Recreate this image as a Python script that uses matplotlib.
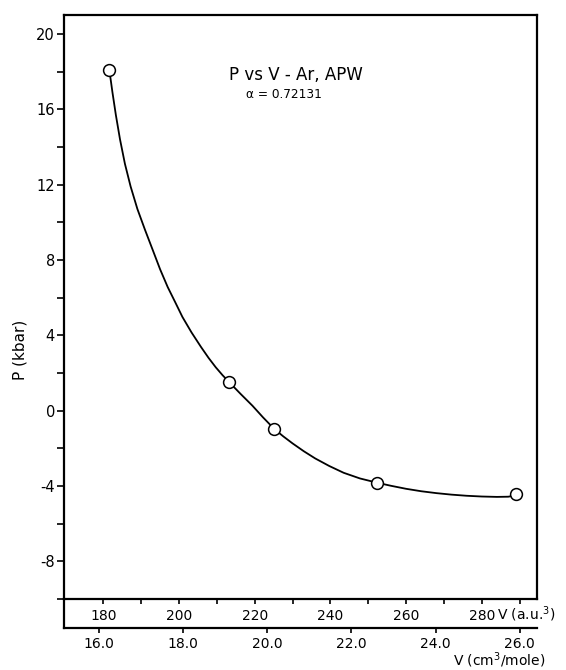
import matplotlib
matplotlib.use("Agg")
import matplotlib.pyplot as plt
from matplotlib.ticker import MultipleLocator

plt.rcParams['font.family'] = ['DejaVu Sans']
plt.rcParams['axes.unicode_minus'] = False
plt.rcParams['mathtext.fontset'] = 'dejavusans'

# APW points (volume in a.u.^3, pressure in kbar)
vol_au = [181.6, 213.3, 225.1, 252.2, 289.0]
pres_kbar = [18.06, 1.50, -0.96, -3.82, -4.44]

# the smooth curve through the points, traced by eye
curve_v = [181.6, 182.4, 183.3, 184.4, 185.7, 187.2, 189.0, 191.0, 193.1, 195.0,
           197.0, 199.0, 200.9, 203.3, 205.8, 207.8, 209.7, 211.5, 213.3, 216.3,
           219.4, 222.2, 225.1, 227.5, 230.0, 233.0, 236.0, 239.7, 243.5, 247.8,
           252.2, 256.0, 260.0, 264.0, 268.0, 272.0, 276.0, 280.0, 284.0, 287.0,
           289.0]
curve_p = [18.06, 16.9, 15.7, 14.4, 13.1, 11.9, 10.7, 9.6, 8.5, 7.5,
           6.56, 5.75, 4.97, 4.15, 3.38, 2.8, 2.3, 1.88, 1.50, 0.88,
           0.26, -0.36, -0.96, -1.36, -1.74, -2.16, -2.54, -2.94, -3.3, -3.6,
           -3.82, -3.99, -4.15, -4.28, -4.38, -4.46, -4.52, -4.56, -4.58, -4.57,
           -4.5]

au_major = [180, 200, 220, 240, 260, 280]
au_minor = [190, 210, 230, 250, 270, 290]
cm3_ticks = [16.0, 18.0, 20.0, 22.0, 24.0, 26.0]
p_ticks = [-8, -4, 0, 4, 8, 12, 16, 20]


# a.u.^3 per atom -> cm^3/mole (scale as printed on the lower axis)
def au_to_cm3(v):
    return 0.09 * v - 0.1


def cm3_to_au(c):
    return (c + 0.1) / 0.09


W, H = 566, 670
fig = plt.figure(figsize=(W / 100, H / 100), dpi=100)
ax = fig.add_axes([64 / W, 1 - 599 / H, (537 - 64) / W, (599 - 15) / H])

lw = 1.6
ax.plot(curve_v, curve_p, color='black', lw=1.3, zorder=2)
ax.plot(vol_au, pres_kbar, linestyle='none', marker='o', markersize=8.5,
        markerfacecolor='white', markeredgecolor='black', markeredgewidth=1.1, zorder=3)

ax.set_xlim(169.6, 294.6)
ax.set_ylim(-10, 21)

for s in ax.spines.values():
    s.set_linewidth(lw)

ax.set_yticks(p_ticks)
ax.yaxis.set_minor_locator(MultipleLocator(2))
ax.tick_params(axis='y', which='both', direction='out', length=5, width=1.2,
               pad=1.5, labelsize=10.5)

ax.set_xticks(au_major)
ax.set_xticks(au_minor, minor=True)
ax.tick_params(axis='x', which='both', direction='out', length=3.5, width=1.2,
               pad=4, labelsize=10)

# lower axis in cm^3/mole
sec = ax.secondary_xaxis(-(628 - 599) / (599 - 15), functions=(au_to_cm3, cm3_to_au))
sec.set_xticks(cm3_ticks)
sec.set_xticklabels([f'{t:.1f}' for t in cm3_ticks])
sec.spines['bottom'].set_linewidth(lw)
sec.tick_params(axis='x', direction='out', length=3.5, width=1.2, pad=3, labelsize=10)

# left frame continues down to the lower axis
ax.plot([0, 0], [0, -(628 - 599) / (599 - 15)], transform=ax.transAxes,
        color='black', lw=lw, clip_on=False, solid_capstyle='projecting')

fig.text(497 / W, 1 - 614 / H, 'V (a.u.$^3$)', ha='left', va='center', fontsize=10)
fig.text(545 / W, 1 - 665 / H, 'V (cm$^3$/mole)', ha='right', va='baseline', fontsize=10)
fig.text(20 / W, 1 - 350 / H, 'P (kbar)', rotation=90, ha='center', va='center', fontsize=11)
fig.text(296 / W, 1 - 75 / H, 'P vs V - Ar, APW', ha='center', va='center', fontsize=12)
fig.text(284 / W, 1 - 95 / H, 'α = 0.72131', ha='center', va='center', fontsize=8.7)

fig.savefig('out.png', dpi=100)
